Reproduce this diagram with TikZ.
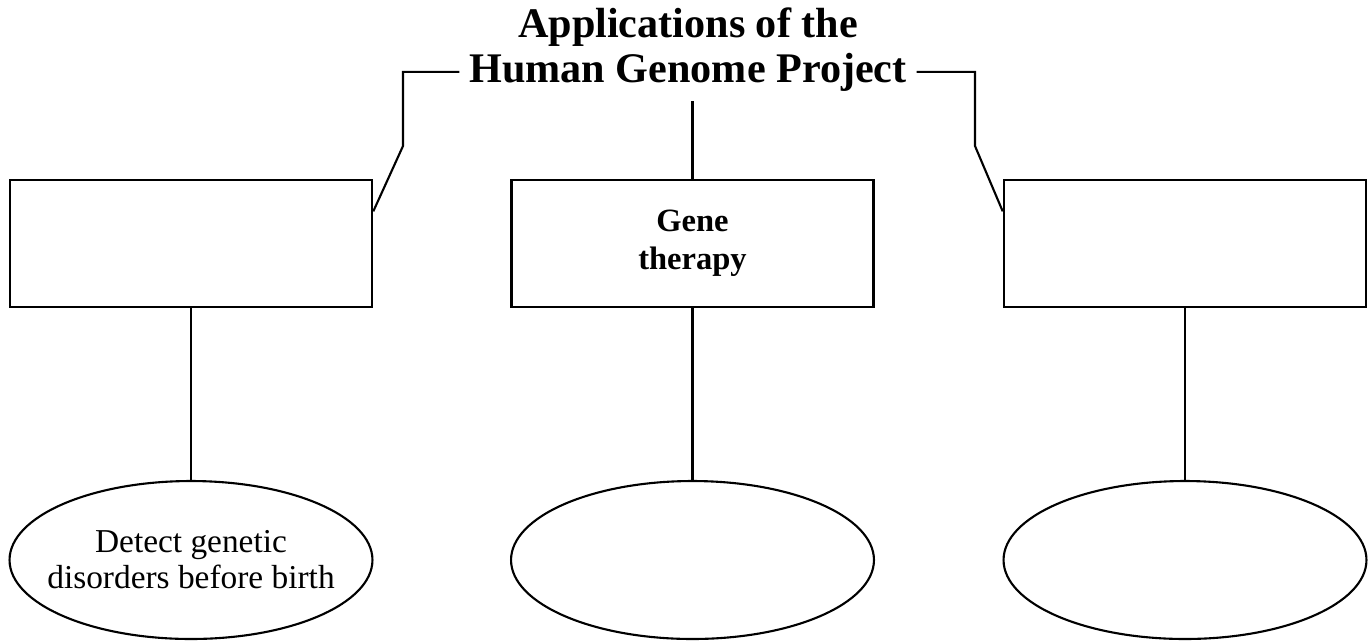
\documentclass[tikz,border=0pt]{standalone}
\usepackage{fontspec}
\setmainfont{Liberation Serif}
\usetikzlibrary{shapes.geometric}

\begin{document}
\begin{tikzpicture}[x=0.02cm, y=-0.02cm,
  heading/.style={font=\bfseries\fontsize{24}{28}\selectfont, anchor=base, inner sep=5.5pt},
  appbox/.style={draw, line width=1.5pt, minimum width=7.24cm, minimum height=2.54cm,
    align=center, font=\bfseries\fontsize{18.5}{21.5}\selectfont},
  oval/.style={draw, ellipse, line width=1.2pt, inner sep=-10pt, minimum width=7.26cm,
    minimum height=3.16cm, align=center, font=\fontsize{19}{20.5}\selectfont},
  link/.style={line width=1.2pt}]

\useasboundingbox (0,0) rectangle (1372,640);

% Title
\node[heading] (title1) at (688,37) {Applications of the};
\node[heading] (title2) at (688,82) {Human Genome Project};

% Application boxes
\node[appbox] (leftbox) at (191,243.5) {};
\node[appbox] (midbox) at (692.5,243.5) {Gene\\therapy};
\node[appbox] (rightbox) at (1185,243.5) {};

% Ovals
\node[oval] (leftoval) at (191,560) {Detect genetic\\disorders before birth};
\node[oval] (midoval) at (692.5,560) {};
\node[oval] (rightoval) at (1185,560) {};

% Bends of the side connectors
\coordinate (lbend) at (403,146);
\coordinate (rbend) at (975,146);

% Connectors
\draw[link] (title2.west) -| (lbend) -- (leftbox.10);
\draw[link] (title2.east) -| (rbend) -- (rightbox.170);
\draw[link] (midbox.north) -- (midbox.north |- title2.south);
\draw[link] (leftbox) -- (leftoval);
\draw[link] (midbox) -- (midoval);
\draw[link] (rightbox) -- (rightoval);

\end{tikzpicture}
\end{document}
